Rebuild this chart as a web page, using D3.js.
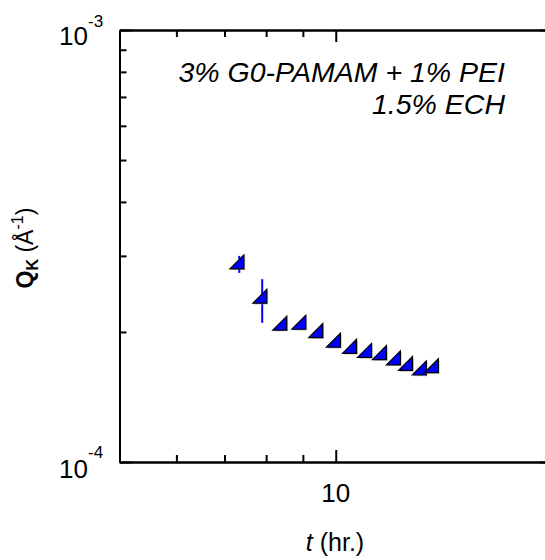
<!DOCTYPE html>
<html>
<head>
<meta charset="utf-8">
<script src="https://cdn.jsdelivr.net/npm/d3@7"></script>
<style>
  html, body { margin: 0; padding: 0; background: #fff; }
  svg { display: block; font-family: Arial, "Liberation Sans", Helvetica, sans-serif; }
</style>
</head>
<body>
<svg id="chart" width="545" height="560"></svg>
<script>
// Elapsed time (hours) and characteristic wavevector Q_K (1/Å)
const timeHr = [7.34, 7.90, 8.42, 8.95, 9.45, 10.0, 10.53, 11.05, 11.59, 12.12, 12.60, 13.17, 13.69];
const qK     = [2.87e-4, 2.39e-4, 2.07e-4, 2.08e-4, 1.99e-4, 1.89e-4, 1.83e-4, 1.79e-4, 1.77e-4, 1.72e-4, 1.67e-4, 1.63e-4, 1.65e-4];
const qLow   = [2.74e-4, 2.10e-4, 2.07e-4, 2.08e-4, 1.99e-4, 1.89e-4, 1.83e-4, 1.79e-4, 1.77e-4, 1.72e-4, 1.67e-4, 1.63e-4, 1.65e-4];
const qHigh  = [3.00e-4, 2.65e-4, 2.07e-4, 2.08e-4, 1.99e-4, 1.89e-4, 1.83e-4, 1.79e-4, 1.77e-4, 1.72e-4, 1.67e-4, 1.63e-4, 1.65e-4];

const xDomain = [5, 20];
const yDomain = [1e-4, 1e-3];
const xMinorTicks = [6, 7, 8, 9];
const xMajorTicks = [10];
const xTickLabels = ["10"];
const yMinorTicks = [2e-4, 3e-4, 4e-4, 5e-4, 6e-4, 7e-4, 8e-4, 9e-4];
const yMajorTicks = [1e-4, 1e-3];
const yTickExponents = ["-4", "-3"];
const noteLines = ["3% G0-PAMAM + 1% PEI", "1.5% ECH"];

const svg = d3.select("#chart");
const plotL = 119.5, plotR = 552, plotT = 30, plotB = 462;

const x = d3.scaleLog().domain(xDomain).range([plotL, plotR]);
const y = d3.scaleLog().domain(yDomain).range([plotB, plotT]);

const majorLen = 12, minorLen = 7;
const axisColor = "#000";

function styleAxis(g) {
  g.select(".domain").attr("stroke", axisColor).attr("stroke-width", 2);
  g.selectAll(".tick line").attr("stroke", axisColor).attr("stroke-width", 2);
  g.selectAll(".tick text").remove();
}

// Bottom and top axes (ticks point inward)
[[plotB, d3.axisBottom], [plotT, d3.axisTop]].forEach(([yy, ax]) => {
  svg.append("g").attr("transform", `translate(0,${yy})`)
    .call(ax(x).tickValues(xMinorTicks).tickSize(-minorLen).tickSizeOuter(0).tickFormat(""))
    .call(styleAxis);
  svg.append("g").attr("transform", `translate(0,${yy})`)
    .call(ax(x).tickValues(xMajorTicks).tickSize(-majorLen).tickSizeOuter(0).tickFormat(""))
    .call(styleAxis);
});

// Left and right axes
[[plotL, d3.axisLeft], [plotR, d3.axisRight]].forEach(([xx, ax]) => {
  svg.append("g").attr("transform", `translate(${xx},0)`)
    .call(ax(y).tickValues(yMinorTicks).tickSize(-minorLen).tickSizeOuter(0).tickFormat(""))
    .call(styleAxis);
  svg.append("g").attr("transform", `translate(${xx},0)`)
    .call(ax(y).tickValues(yMajorTicks).tickSize(-majorLen).tickSizeOuter(0).tickFormat(""))
    .call(styleAxis);
});

// x tick labels
svg.append("g").selectAll("text").data(xMajorTicks).join("text")
  .attr("x", d => x(d)).attr("y", 502)
  .attr("text-anchor", "middle").attr("font-size", 26)
  .text((d, i) => xTickLabels[i]);

// y tick labels: 10 with superscript exponent
svg.append("g").selectAll("text").data(yMajorTicks).join("text")
  .attr("x", 88).attr("y", d => y(d) + (d === 1e-3 ? 15 : 16))
  .attr("text-anchor", "end").attr("font-size", 26)
  .text("10");
svg.append("g").selectAll("text").data(yMajorTicks).join("text")
  .attr("x", 88).attr("y", d => y(d) + (d === 1e-3 ? -3 : -4))
  .attr("font-size", 17)
  .text((d, i) => yTickExponents[i]);

// Error bars
const pts = timeHr.map((t, i) => ({ t, q: qK[i], lo: qLow[i], hi: qHigh[i] }));
svg.append("g").selectAll("line").data(pts.filter(d => d.hi > d.lo)).join("line")
  .attr("x1", d => x(d.t)).attr("x2", d => x(d.t))
  .attr("y1", d => y(d.hi)).attr("y2", d => y(d.lo))
  .attr("stroke", "#0000ff").attr("stroke-width", 2);

// Right-triangle markers, centred on their centroid
const s = 14;
const tri = `M${-2 * s / 3},${s / 3}L${s / 3},${s / 3}L${s / 3},${-2 * s / 3}Z`;
const mk = svg.append("g").selectAll("g").data(pts).join("g")
  .attr("transform", d => `translate(${x(d.t)},${y(d.q)})`);
mk.append("path").attr("d", tri).attr("transform", "translate(1.2,1.2)")
  .attr("fill", "#999").attr("opacity", 0.6);
mk.append("path").attr("d", tri)
  .attr("fill", "#0000ff").attr("stroke", "#000").attr("stroke-width", 1.2)
  .attr("stroke-linejoin", "miter");

// Sample annotation
svg.append("g").selectAll("text").data(noteLines).join("text")
  .attr("x", 505).attr("y", (d, i) => 82 + i * 32)
  .attr("text-anchor", "end").attr("font-size", 28.5).attr("font-style", "italic")
  .text(d => d);

// Axis titles
const xt = svg.append("text").attr("x", 335).attr("y", 551)
  .attr("text-anchor", "middle").attr("font-size", 25);
xt.append("tspan").attr("font-style", "italic").text("t");
xt.append("tspan").text(" (hr.)");

const ytG = svg.append("g").attr("transform", "translate(33,248) rotate(-90)");
const yt = ytG.append("text").attr("text-anchor", "middle").attr("font-size", 23);
yt.append("tspan").attr("font-weight", "bold").text("Q");
yt.append("tspan").attr("font-weight", "bold").attr("font-size", 16).attr("dy", 5).text("K");
yt.append("tspan").attr("dy", -5).text(" (");
yt.append("tspan").text("Å");
yt.append("tspan").attr("font-size", 16).attr("dy", -10).text("-1");
yt.append("tspan").attr("dy", 10).text(")");
</script>
</body>
</html>
